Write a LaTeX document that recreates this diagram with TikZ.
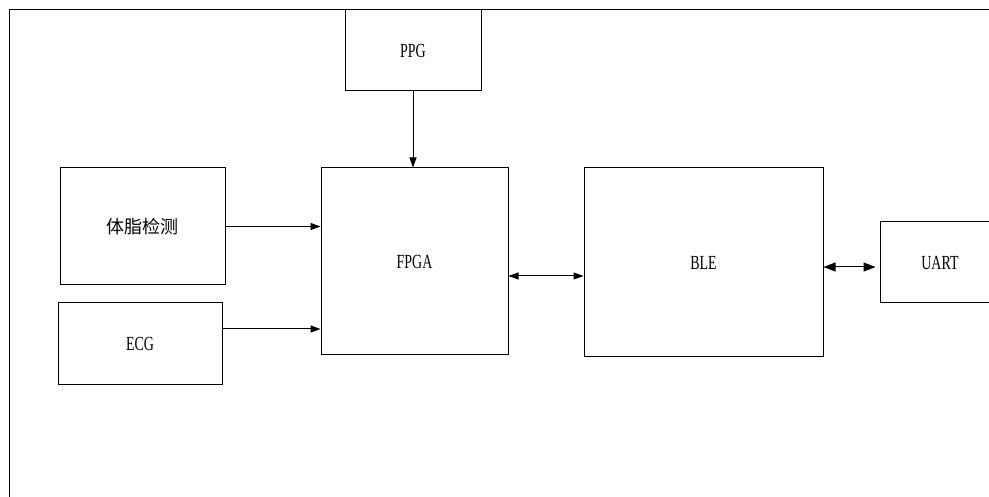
\documentclass[tikz,border=0pt]{standalone}
\usepackage{fontspec}
\setmainfont{Liberation Serif}[FakeStretch=0.7]
\newfontfamily\cjk{Noto Sans CJK SC}
\usetikzlibrary{arrows.meta}
\tikzset{block/.style={draw, line width=1pt, inner sep=0pt, font=\fontsize{20}{24}\selectfont}}
\tikzset{link/.style={line width=1pt, -{Triangle[length=10pt,width=7pt]}}}
\tikzset{dlink/.style={line width=1pt, {Triangle[length=10pt,width=7pt]}-{Triangle[length=10pt,width=7pt]}}}

\begin{document}
\begin{tikzpicture}[x=1pt,y=-1pt]
    \useasboundingbox (0,0) rectangle (989,497);
    \clip (0,0) rectangle (989,497);
    %Frame
    \draw[line width=1pt] (9,497) -- (9,10) -- (989,10);
    %Blocks
    \node[block, minimum width=136pt, minimum height=81pt] (ppg) at (413,50.5) {PPG};
    \node[block, minimum width=165pt, minimum height=117pt, font=\cjk\fontsize{18}{22}\selectfont] (tizhi) at (142.5,226.5) {体脂检测};
    \node[block, minimum width=164pt, minimum height=81pt] (ecg) at (140,343.5) {ECG};
    \node[block, minimum width=187pt, minimum height=187pt] (fpga) at (414.5,261.5) {FPGA};
    \node[block, minimum width=239pt, minimum height=189pt] (ble) at (703.5,262.5) {BLE};
    \node[block, minimum width=120pt, minimum height=81pt] (uart) at (940,262.5) {UART};
    %Links
    \draw[link] (ppg.south) -- (ppg.south |- fpga.north);
    \draw[link] (tizhi.east) -- (tizhi.east -| fpga.west);
    \draw[link] ([yshift=14.5pt]ecg.east) -- ([yshift=14.5pt]ecg.east -| fpga.west);
    \draw[dlink] ([yshift=-14.5pt]fpga.east) -- ([yshift=-14.5pt]fpga.east -| ble.west);
    \draw[dlink, {Triangle[length=12pt,width=9pt]}-{Triangle[length=12pt,width=9pt]}, shorten >=4pt] ([yshift=-4.5pt]ble.east) -- ([yshift=-4.5pt]ble.east -| uart.west);
\end{tikzpicture}
\end{document}
